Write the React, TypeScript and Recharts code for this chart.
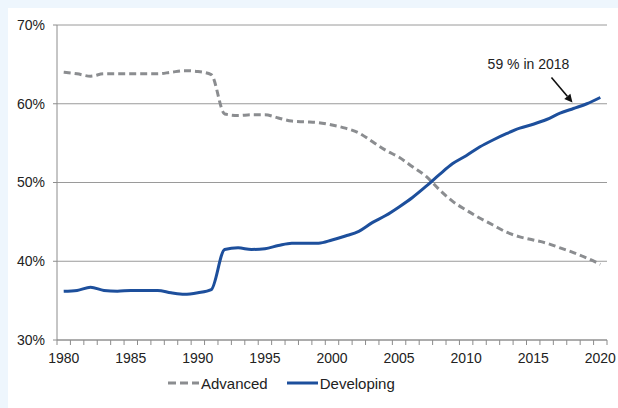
import { LineChart, Line, XAxis, YAxis, CartesianGrid, Legend, ReferenceDot } from "recharts"

const years = [
  1980, 1981, 1982, 1983, 1984, 1985, 1986, 1987, 1988, 1989,
  1990, 1991, 1992, 1993, 1994, 1995, 1996, 1997, 1998, 1999,
  2000, 2001, 2002, 2003, 2004, 2005, 2006, 2007, 2008, 2009,
  2010, 2011, 2012, 2013, 2014, 2015, 2016, 2017, 2018, 2019, 2020,
]

const advanced = [
  64.0, 63.8, 63.5, 63.8, 63.8, 63.8, 63.8, 63.8, 64.0, 64.2,
  64.1, 63.7, 58.7, 58.5, 58.6, 58.6, 58.2, 57.8, 57.7, 57.6,
  57.3, 56.9, 56.3, 55.2, 54.1, 53.2, 52.0, 50.8, 49.1, 47.6,
  46.5, 45.5, 44.6, 43.7, 43.1, 42.7, 42.3, 41.7, 41.1, 40.4, 39.6,
]

const developing = [
  36.2, 36.3, 36.7, 36.3, 36.2, 36.3, 36.3, 36.3, 36.0, 35.8,
  36.0, 36.4, 41.5, 41.7, 41.5, 41.6, 42.0, 42.3, 42.3, 42.3,
  42.7, 43.2, 43.8, 44.9, 45.8, 46.9, 48.1, 49.5, 51.0, 52.4,
  53.4, 54.5, 55.4, 56.2, 56.9, 57.4, 58.0, 58.8, 59.4, 60.0, 60.8,
]

const yTicks = [30, 40, 50, 60, 70]
const labelEvery = 5
const note = { year: 2018, value: 59.4, text: "59 % in 2018" }

const data = years.map((year, i) => ({ year, advanced: advanced[i], developing: developing[i] }))

const W = 618
const H = 408
const M = { top: 25, right: 11, bottom: 14, left: 7 }
const Y_W = 50
const PLOT_W = W - M.left - M.right - Y_W
const HALF = PLOT_W / years.length / 2

const GRAY = "#8b8d90"
const BLUE = "#1d4f9c"
const AXIS = "#8c8c8c"
const FONT = "'Liberation Sans', Arial, sans-serif"

function XTick(props: any) {
  const { x, y, payload } = props
  const v = payload.value
  return (
    <g>
      <line x1={x - HALF} x2={x - HALF} y1={y} y2={y + 5} stroke={AXIS} />
      {v === years[years.length - 1] && <line x1={x + HALF} x2={x + HALF} y1={y} y2={y + 5} stroke={AXIS} />}
      {v % labelEvery === 0 && (
        <text x={x} y={y + 23} textAnchor="middle" fontSize={14} fill="#222" fontFamily={FONT}>
          {v}
        </text>
      )}
    </g>
  )
}

function NoteShape(props: any) {
  const { cx, cy } = props
  const tip = { x: cx - 1, y: cy - 6 }
  const tail = { x: cx - 22, y: cy - 31 }
  const dx = tip.x - tail.x
  const dy = tip.y - tail.y
  const len = Math.hypot(dx, dy)
  const ux = dx / len
  const uy = dy / len
  const bx = tip.x - ux * 8
  const by = tip.y - uy * 8
  const head = `${tip.x},${tip.y} ${bx - uy * 4},${by + ux * 4} ${bx + uy * 4},${by - ux * 4}`
  return (
    <g>
      <line x1={tail.x} y1={tail.y} x2={bx} y2={by} stroke="#111" strokeWidth={1.6} />
      <polygon points={head} fill="#111" />
      <text x={cx - 45} y={cy - 39} textAnchor="middle" fontSize={14} fill="#222" fontFamily={FONT}>
        {note.text}
      </text>
    </g>
  )
}

function LegendBox() {
  const item = (label: string, color: string, dash?: string) => (
    <div style={{ display: "flex", alignItems: "center", marginRight: 19 }}>
      <svg width={32} height={6} style={{ marginRight: 1 }}>
        <line x1={0} x2={31} y1={3} y2={3} stroke={color} strokeWidth={3} strokeDasharray={dash} />
      </svg>
      <span>{label}</span>
    </div>
  )
  return (
    <div style={{ display: "flex", height: 22, alignItems: "center", fontSize: 15, color: "#222", fontFamily: FONT }}>
      {item("Advanced", GRAY, "8 4")}
      {item("Developing", BLUE)}
    </div>
  )
}

export default function App() {
  return (
    <div style={{ position: "fixed", left: 0, top: 0, width: W, height: H, background: "#eef6fd" }}>
      <div style={{ position: "absolute", left: 8, top: 8, right: 0, bottom: 0, background: "#fff" }} />
      <div style={{ position: "absolute", left: 0, top: 0 }}>
        <LineChart width={W} height={H} data={data} margin={M} style={{ fontFamily: FONT }}>
          <CartesianGrid vertical={false} stroke="#9a9a9a" />
          <XAxis
            dataKey="year"
            type="number"
            domain={[years[0] - 0.5, years[years.length - 1] + 0.5]}
            ticks={years}
            interval={0}
            tick={<XTick />}
            tickLine={false}
            tickSize={0}
            tickMargin={0}
            axisLine={{ stroke: AXIS }}
            height={32}
          />
          <YAxis
            domain={[yTicks[0], yTicks[yTicks.length - 1]]}
            ticks={yTicks}
            tickFormatter={(v) => `${v}%`}
            width={Y_W}
            tickSize={4}
            tickMargin={8}
            tickLine={{ stroke: AXIS }}
            axisLine={{ stroke: AXIS }}
            tick={{ fill: "#222", fontSize: 14 }}
          />
          <Legend content={<LegendBox />} verticalAlign="bottom" wrapperStyle={{ left: 168, width: "auto" }} />
          <Line
            type="monotone"
            dataKey="advanced"
            name="Advanced"
            stroke={GRAY}
            strokeWidth={3}
            strokeDasharray="7 4"
            dot={false}
            isAnimationActive={false}
          />
          <Line
            type="monotone"
            dataKey="developing"
            name="Developing"
            stroke={BLUE}
            strokeWidth={3}
            dot={false}
            isAnimationActive={false}
          />
          <ReferenceDot x={note.year} y={note.value} r={0} shape={NoteShape} />
        </LineChart>
      </div>
    </div>
  )
}
